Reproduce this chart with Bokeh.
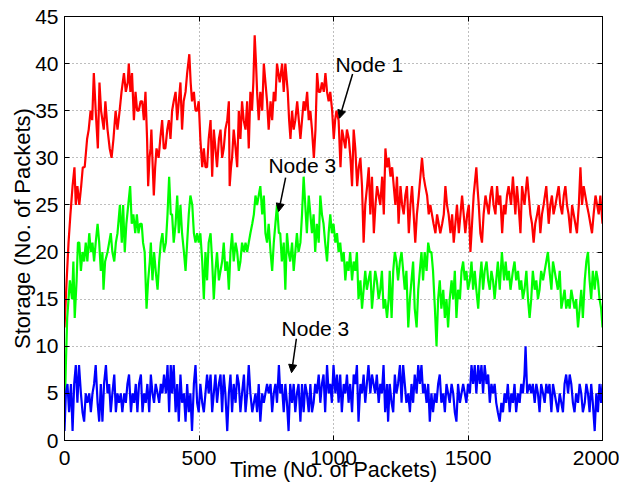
from bokeh.plotting import figure
from bokeh.models import Range1d, LinearAxis, FixedTicker, Arrow, NormalHead, ColumnDataSource
from bokeh.core.properties import value
from bokeh.embed import file_html
from bokeh.resources import INLINE

# ---- data (time in packets, storage in packets) ----
red_pts = [(0,12),(8,17),(15,21),(22,24),(30,27),(37,29),(42,25),(48,27),(55,25),(62,27),(68,29),(75,29),
 (84,32),(90,33),(97,35),(103,34),(109,39),(116,35),(124,31),(130,38),(136,35),(146,33),(152,36),(160,33),
 (168,31),(175,30),(182,32),(190,35),(197,33),(205,35),(212,37),(221,39),(228,37),(235,38),(239,40),(245,37),
 (251,39),(258,34),(264,37),(270,35),(276,35),(283,36),(289,36),(295,34),(301,37),(307,32),(311,27),(316,30),
 (320,31),(323,33),(328,29),(332,26),(337,29),(342,31),(350,30),(356,32),(363,34),(369,31),(375,31),(382,33),
 (388,34),(394,32),(400,35),(406,36),(413,37),(419,34),(425,36),(431,38),(437,33),(443,36),(450,37),(456,39),
 (464,41),(469,38),(474,36),(481,37),(487,35),(493,35),(499,36),(505,32),(512,29),(518,31),(524,29),(530,29),
 (536,32),(543,34),(549,28),(555,33),(561,31),(567,29),(574,32),(580,33),(586,30),(592,31),(598,33),(605,34),
 (611,36),(614,27),(619,29),(623,30),(629,33),(636,31),(642,29),(648,35),(654,32),(660,36),(666,34),(673,33),
 (679,36),(685,31),(691,37),(697,35),(702,38),(707,43),(712,40),(716,37),(722,34),(728,37),(735,35),(741,40),
 (747,38),(753,36),(759,33),(766,36),(772,34),(778,37),(784,36),(790,40),(800,38),(809,40),(815,37),(821,40),
 (830,37),(835,34),(840,32),(846,35),(852,33),(858,34),(865,36),(871,34),(877,32),(883,34),(889,36),(895,35),
 (902,37),(908,34),(914,35),(920,33),(927,30),(933,33),(939,39),(945,37),(951,37),(957,38),(964,37),(970,39),
 (976,37),(982,36),(988,37),(995,35),(1001,32),(1006,34),(1011,35),(1019,34),(1026,29),(1032,33),(1038,32),
 (1044,31),(1050,33),(1057,32),(1063,30),(1069,27),(1075,33),(1081,31),(1088,27),(1094,29),(1100,30),(1106,27),
 (1112,21),(1118,25),(1125,27),(1131,29),(1137,24),(1143,28),(1150,22),(1156,25),(1162,27),(1168,26),(1174,25),
 (1181,28),(1187,24),(1193,31),(1199,29),(1205,30),(1212,28),(1218,29),(1224,27),(1230,25),(1236,28),(1242,23),
 (1249,27),(1255,25),(1261,24),(1267,26),(1273,27),(1280,22),(1286,25),(1292,27),(1298,24),(1304,21),(1310,24),
 (1317,26),(1323,28),(1329,30),(1335,28),(1341,27),(1348,26),(1354,24),(1360,25),(1366,24),(1372,23),(1379,22),
 (1385,24),(1391,23),(1397,22),(1404,23),(1410,24),(1416,27),(1422,25),(1428,24),(1435,22),(1441,24),(1447,21),
 (1453,23),(1459,25),(1466,22),(1472,24),(1478,26),(1484,24),(1490,22),(1497,24),(1503,25),(1509,20),(1515,23),
 (1521,26),(1531,29),(1535,27),(1540,25),(1546,22),(1552,21),(1558,24),(1565,26),(1571,25),(1577,24),(1583,26),
 (1589,27),(1595,25),(1602,24),(1608,27),(1614,25),(1620,26),(1627,22),(1633,25),(1639,24),(1645,26),(1651,27),
 (1660,25),(1667,28),(1676,24),(1682,27),(1688,25),(1695,22),(1701,27),(1710,25),(1720,28),(1726,26),(1732,24),
 (1738,23),(1744,21),(1750,23),(1757,24),(1763,25),(1769,22),(1775,24),(1781,25),(1791,27),(1800,23),(1806,25),
 (1812,26),(1818,24),(1825,25),(1831,26),(1837,27),(1843,25),(1850,24),(1856,26),(1862,27),(1868,25),(1874,24),
 (1881,22),(1887,25),(1893,24),(1899,23),(1905,22),(1912,25),(1918,29),(1924,25),(1930,27),(1936,26),(1942,25),
 (1949,24),(1955,23),(1961,22),(1967,24),(1974,26),(1980,25),(1986,24),(1992,26),(2000,23)]

green_pts = [(0,2),(5,8),(10,13),(15,15),(20,17),(28,15),(33,19),(38,13),(45,17),(50,21),(55,21),(61,18),
 (67,20),(73,19),(79,21),(85,19),(92,22),(98,20),(104,21),(110,19),(116,21),(123,23),(129,21),(135,18),(141,20),
 (145,16),(151,19),(160,20),(166,21),(172,22),(178,20),(185,19),(191,21),(197,22),(206,25),(213,21),(218,25),
 (224,20),(230,23),(237,25),(244,27),(250,23),(256,24),(263,22),(269,24),(275,22),(281,23),(287,23),(292,21),
 (298,20),(305,14),(311,17),(317,19),(321,21),(327,17),(333,20),(339,18),(346,16),(352,19),(358,21),(364,22),
 (370,20),(377,21),(383,24),(389,28),(395,24),(400,24),(406,21),(413,23),(419,26),(425,22),(431,25),(437,22),
 (444,20),(450,18),(456,21),(462,24),(468,26),(475,25),(481,22),(487,21),(493,22),(499,21),(505,22),(512,19),
 (518,15),(524,20),(530,17),(536,21),(543,22),(549,19),(555,15),(561,18),(567,20),(574,17),(580,18),(586,19),
 (592,21),(598,18),(605,19),(611,16),(617,20),(623,22),(629,19),(636,21),(642,20),(648,18),(654,19),(660,21),
 (667,20),(673,21),(679,20),(685,21),(691,22),(698,23),(704,24),(710,26),(716,25),(722,26),(728,27),(735,24),
 (741,26),(747,22),(753,21),(759,23),(766,20),(772,18),(778,21),(784,23),(790,25),(797,22),(802,22),(808,19),
 (815,21),(821,16),(827,22),(833,20),(839,19),(846,21),(852,18),(858,20),(864,22),(870,20),(877,21),(883,24),
 (889,28),(895,25),(901,22),(908,26),(914,24),(920,22),(926,24),(932,20),(938,23),(945,21),(951,26),(957,24),
 (963,23),(969,21),(976,19),(982,22),(988,24),(994,22),(1000,23),(1007,21),(1013,22),(1019,20),(1025,21),
 (1031,19),(1038,20),(1044,17),(1050,19),(1056,18),(1062,20),(1069,17),(1075,19),(1081,18),(1087,20),(1093,15),
 (1100,17),(1106,14),(1112,16),(1118,18),(1124,16),(1130,17),(1137,18),(1143,14),(1149,16),(1155,18),(1161,17),
 (1168,15),(1174,16),(1180,18),(1186,14),(1192,15),(1199,13),(1205,15),(1209,18),(1216,13),(1222,18),(1228,20),
 (1234,19),(1240,17),(1247,19),(1253,20),(1259,18),(1265,16),(1271,18),(1278,12),(1284,15),(1290,17),(1296,19),
 (1302,14),(1309,12),(1315,16),(1321,18),(1327,20),(1333,17),(1339,20),(1346,18),(1352,21),(1358,20),(1364,20),
 (1370,18),(1377,14),(1383,10),(1389,15),(1395,17),(1401,14),(1408,16),(1414,13),(1420,15),(1426,12),(1432,15),
 (1439,17),(1445,15),(1451,18),(1457,13),(1463,16),(1470,15),(1476,18),(1482,19),(1488,17),(1494,18),(1500,16),
 (1507,17),(1513,19),(1519,16),(1525,18),(1531,16),(1538,14),(1544,17),(1550,19),(1556,16),(1562,18),(1569,19),
 (1575,17),(1581,16),(1587,18),(1593,17),(1599,15),(1605,17),(1611,19),(1618,16),(1626,20),(1634,17),(1640,19),
 (1646,17),(1652,18),(1658,16),(1667,18),(1673,19),(1679,17),(1686,18),(1692,16),(1698,17),(1704,15),(1710,16),
 (1717,18),(1723,15),(1729,13),(1735,15),(1741,18),(1748,16),(1754,17),(1760,15),(1766,16),(1772,18),(1779,17),
 (1785,18),(1791,19),(1797,20),(1803,18),(1810,16),(1816,19),(1822,18),(1828,17),(1834,16),(1841,18),(1847,14),
 (1853,15),(1859,16),(1865,14),(1872,15),(1878,14),(1884,16),(1890,15),(1896,14),(1902,15),(1909,12),(1915,14),
 (1921,16),(1927,13),(1934,17),(1940,19),(1946,20),(1952,17),(1958,15),(1964,18),(1971,16),(1977,18),(1983,17),
 (1989,15),(1995,14),(2000,12)]

blue_pts = [(0,1),(5,5),(11,6),(17,3),(24,6),(30,1),(36,6),(42,8),(48,4),(54,8),(61,5),(67,3),(73,2),(79,5),
 (85,4),(92,5),(98,3),(104,5),(110,6),(116,8),(123,4),(129,2),(135,6),(141,2),(147,6),(154,8),(160,5),(166,6),
 (172,3),(178,5),(185,7),(191,3),(197,5),(203,4),(209,5),(215,3),(222,5),(228,4),(234,6),(240,7),(247,3),(253,5),
 (259,4),(265,6),(271,3),(277,6),(284,7),(290,3),(296,5),(302,4),(308,6),(315,3),(321,7),(327,5),(333,4),(339,6),
 (346,5),(352,4),(358,6),(364,5),(370,7),(377,5),(383,8),(389,3),(395,8),(400,5),(406,8),(413,3),(419,6),(425,2),
 (431,7),(437,4),(444,5),(450,2),(456,6),(462,3),(468,5),(474,1),(481,6),(487,8),(493,4),(499,3),(505,6),(512,4),
 (518,3),(524,5),(530,7),(536,5),(543,7),(549,3),(555,5),(561,7),(567,4),(574,6),(580,7),(586,3),(592,7),(598,5),
 (605,1),(611,5),(617,7),(623,3),(629,6),(636,4),(642,7),(648,6),(654,3),(660,5),(667,7),(673,3),(679,5),(685,8),
 (691,5),(698,3),(704,4),(710,5),(716,3),(722,6),(728,2),(735,5),(741,4),(747,5),(753,6),(759,5),(766,6),(772,3),
 (778,5),(784,6),(790,4),(797,8),(802,5),(808,6),(815,3),(821,6),(827,4),(833,1),(839,6),(846,4),(852,6),(858,3),
 (864,5),(870,6),(877,2),(883,6),(889,3),(895,6),(901,5),(908,3),(914,6),(920,3),(926,4),(932,6),(938,5),(945,7),
 (951,4),(957,6),(963,7),(969,3),(976,8),(982,5),(988,6),(994,4),(1000,8),(1007,5),(1013,7),(1019,4),(1025,7),
 (1031,3),(1038,6),(1044,5),(1050,7),(1056,4),(1062,6),(1069,3),(1075,7),(1081,6),(1087,8),(1093,2),(1100,6),
 (1106,5),(1112,7),(1118,4),(1124,6),(1130,8),(1137,5),(1143,7),(1149,6),(1155,5),(1161,7),(1168,4),(1174,6),
 (1180,5),(1186,8),(1192,3),(1199,6),(1203,2),(1209,6),(1216,4),(1222,3),(1228,7),(1234,5),(1240,6),(1247,8),
 (1253,4),(1259,8),(1265,6),(1271,4),(1278,5),(1284,3),(1290,6),(1296,4),(1302,7),(1309,5),(1315,8),(1321,6),
 (1327,8),(1333,5),(1339,6),(1346,4),(1352,6),(1358,2),(1364,5),(1370,3),(1377,5),(1383,4),(1389,6),(1395,7),
 (1401,4),(1408,5),(1414,3),(1420,6),(1426,5),(1432,4),(1439,6),(1445,5),(1451,3),(1457,2),(1463,6),(1470,4),
 (1476,5),(1482,6),(1488,5),(1494,4),(1500,6),(1507,5),(1513,8),(1519,6),(1525,8),(1531,5),(1538,8),(1544,6),
 (1550,8),(1556,5),(1562,8),(1569,6),(1575,7),(1581,4),(1587,6),(1593,5),(1599,6),(1605,4),(1611,3),(1618,2),
 (1624,4),(1630,3),(1636,5),(1642,4),(1648,6),(1655,3),(1661,5),(1667,4),(1673,6),(1679,3),(1686,5),(1692,4),
 (1698,6),(1704,5),(1710,7),(1714,10),(1720,5),(1729,6),(1735,5),(1741,6),(1748,4),(1754,6),(1760,5),(1766,3),
 (1772,6),(1779,5),(1785,4),(1791,6),(1797,5),(1803,6),(1810,3),(1816,6),(1822,5),(1828,4),(1834,3),(1841,5),
 (1847,4),(1853,3),(1859,6),(1865,7),(1872,5),(1878,7),(1884,6),(1890,4),(1896,3),(1902,5),(1909,4),(1915,6),
 (1921,5),(1927,3),(1934,4),(1940,6),(1946,5),(1952,3),(1958,6),(1964,4),(1971,1),(1977,5),(1983,3),(1989,6),
 (1995,4),(2000,6)]

x_ticks = [0, 500, 1000, 1500, 2000]
y_ticks = [0, 5, 10, 15, 20, 25, 30, 35, 40, 45]

# annotations: label (left, middle), arrow start, arrow end  (data units)
labels = ["Node 1", "Node 3", "Node 3"]
label_x = [1007, 758, 807]
label_y = [39.9, 29.2, 11.9]
arrow_x0 = [1071, 822, 862]
arrow_y0 = [38.9, 27.9, 10.8]
arrow_x1 = [1022, 796, 844]
arrow_y1 = [34.2, 24.3, 7.2]

FONT = "Liberation Sans"

p = figure(width=619, height=484, output_backend="svg", toolbar_location=None,
           x_range=Range1d(0, 2000), y_range=Range1d(0, 45),
           min_border_left=64, min_border_right=17, min_border_top=16, min_border_bottom=44)
p.background_fill_color = "white"
p.border_fill_color = "white"
p.outline_line_color = "black"
p.outline_line_width = 1
p.outline_line_alpha = 1

def unzip(pts):
    return [a for a, _ in pts], [b for _, b in pts]

for pts, col in [(red_pts, "#ff0000"), (green_pts, "#00ff00"), (blue_pts, "#0000ff")]:
    xs, ys = unzip(pts)
    p.line(xs, ys, line_color=col, line_width=2.2)

src = ColumnDataSource(dict(x=label_x, y=label_y, t=labels))
p.text(x="x", y="y", text="t", source=src, text_font=value(FONT), text_font_size="21px",
       text_align="left", text_baseline="middle", text_color="black")
for i in range(len(labels)):
    p.add_layout(Arrow(end=NormalHead(size=8, fill_color="black", line_color="black"),
                       x_start=arrow_x0[i], y_start=arrow_y0[i], x_end=arrow_x1[i], y_end=arrow_y1[i],
                       line_color="black", line_width=1.5))

# axes
for ax in p.xaxis:
    ax.ticker = FixedTicker(ticks=x_ticks)
for ax in p.yaxis:
    ax.ticker = FixedTicker(ticks=y_ticks)
p.xaxis.axis_label = "Time (No. of Packets)"
p.yaxis.axis_label = "Storage (No. of Packets)"
for ax in [p.xaxis[0], p.yaxis[0]]:
    ax.axis_label_text_font = FONT
    ax.axis_label_text_font_style = "normal"
    ax.axis_label_text_color = "black"
    ax.major_label_text_font = FONT
    ax.major_label_text_font_size = "21px"
    ax.major_label_text_color = "black"
    ax.major_tick_in = 5
    ax.major_tick_out = 0
    ax.minor_tick_in = 0
    ax.minor_tick_out = 0
    ax.axis_line_color = "black"
    ax.major_tick_line_color = "black"
p.xaxis[0].axis_label_text_font_size = "21.5px"
p.yaxis[0].axis_label_text_font_size = "22px"
p.xaxis[0].major_label_standoff = 10
p.xaxis[0].axis_label_standoff = -10
p.yaxis[0].major_label_standoff = 6
p.yaxis[0].axis_label_standoff = -3

# ticks on top and right edges (MATLAB box), without labels
top = LinearAxis(ticker=FixedTicker(ticks=x_ticks),
                 major_label_overrides={t: "" for t in x_ticks},
                 major_tick_in=5, major_tick_out=0, minor_tick_in=0, minor_tick_out=0,
                 major_label_standoff=0, axis_line_color="black")
right = LinearAxis(ticker=FixedTicker(ticks=y_ticks),
                   major_label_overrides={t: "" for t in y_ticks},
                   major_tick_in=5, major_tick_out=0, minor_tick_in=0, minor_tick_out=0,
                   major_label_standoff=0, axis_line_color="black")
p.add_layout(top, "above")
p.add_layout(right, "right")

p.grid.grid_line_color = "#444444"
p.grid.grid_line_alpha = 0.7
p.grid.grid_line_dash = "1 3"
p.grid.grid_line_width = 1
p.xgrid.ticker = FixedTicker(ticks=x_ticks)
p.ygrid.ticker = FixedTicker(ticks=y_ticks)

open("out.html", "w").write(file_html(p, INLINE))
